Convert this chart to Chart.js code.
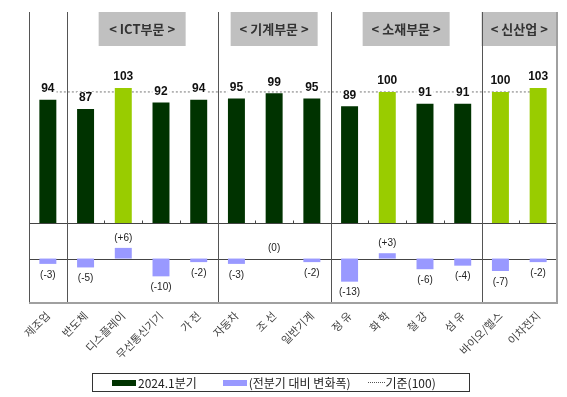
<!DOCTYPE html>
<html>
<head>
<meta charset="utf-8">
<script src="https://cdn.jsdelivr.net/npm/chart.js@4.4.1/dist/chart.umd.min.js"></script>
<style>
  body { margin: 0; background: #fff; }
  #wrap { position: relative; width: 567px; height: 397px; }
  #legend {
    position: absolute; left: 92px; top: 373px; width: 376px; height: 17px;
    border: 1px solid #333; display: flex; align-items: center;
    font: 12px "Noto Sans CJK KR", sans-serif; color: #222; box-sizing: content-box;
  }
  #legend span.sw { display: inline-block; width: 24px; height: 6px; margin-right: 2px; }
  #legend span.dot { display: inline-block; width: 17px; height: 0; border-top: 1px dotted #555; margin-right: 1px; }
  #legend .it { display: flex; align-items: center; }
</style>
</head>
<body>
<div id="wrap">
  <canvas id="chart" width="567" height="397"></canvas>
  <div id="legend">
    <div class="it" style="margin-left:19px"><span class="sw" style="background:#003300"></span>2024.1분기</div>
    <div class="it" style="margin-left:26px"><span class="sw" style="background:#9999ff"></span>(전분기 대비 변화폭)</div>
    <div class="it" style="margin-left:17px"><span class="dot"></span>기준(100)</div>
  </div>
</div>
<script>
var categories = ['제조업', '반도체', '디스플레이', '무선통신기기', '가 전', '자동차', '조 선', '일반기계', '정 유', '화 학', '철 강', '섬 유', '바이오/헬스', '이차전지'];
var index2024q1 = [94, 87, 103, 92, 94, 95, 99, 95, 89, 100, 91, 91, 100, 103];
var qoqChange = [-3, -5, 6, -10, -2, -3, 0, -2, -13, 3, -6, -4, -7, -2];
var baseLine = [100, 100, 100, 100, 100, 100, 100, 100, 100, 100, 100, 100, 100, 100];

var groupNames = ['< ICT부문 >', '< 기계부문 >', '< 소재부문 >', '< 신산업 >'];
var groupFirst = [1, 5, 8, 12];
var groupLast = [4, 7, 11, 13];

var DARK = '#003300', LIGHT = '#99cc00', LAV = '#9999ff';

// left edge of category i (i = categories.length gives the right edge)
function boundary(x, i) {
    var w = x.getPixelForValue(1) - x.getPixelForValue(0);
    return x.getPixelForValue(0) + (i - 0.5) * w;
}

var panelPlugin = {
    id: 'panels',
    beforeDatasetsDraw: function (chart) {
        var ctx = chart.ctx, a = chart.chartArea, x = chart.scales.x;
        var y = chart.scales.y, y2 = chart.scales.y2;
        ctx.save();
        // header boxes
        for (var g = 0; g < groupNames.length; g++) {
            var l = boundary(x, groupFirst[g]), r = boundary(x, groupLast[g] + 1);
            var c = (l + r) / 2, w = Math.min(87, r - l);
            ctx.fillStyle = '#c0c0c0';
            ctx.fillRect(c - w / 2, a.top, w, 34);
            ctx.fillStyle = '#333';
            ctx.font = 'bold 13px "Noto Sans CJK KR"';
            ctx.textAlign = 'center';
            ctx.textBaseline = 'middle';
            ctx.fillText(groupNames[g], c, a.top + 17);
        }
        // upper baseline and lower zero line
        var yb = Math.round(y.getPixelForValue(0)) + 0.5;
        var y0 = Math.round(y2.getPixelForValue(0)) + 0.5;
        ctx.strokeStyle = '#444';
        ctx.lineWidth = 1;
        ctx.beginPath();
        ctx.moveTo(a.left, yb); ctx.lineTo(a.right, yb);
        ctx.moveTo(a.left, y0); ctx.lineTo(a.right, y0);
        ctx.stroke();
        // small tick marks on the upper baseline
        ctx.beginPath();
        for (var i = 1; i < categories.length; i++) {
            var bx = Math.round(boundary(x, i)) + 0.5;
            ctx.moveTo(bx, yb); ctx.lineTo(bx, yb - 3);
        }
        ctx.stroke();
        // group dividers and left border
        ctx.strokeStyle = '#555';
        ctx.beginPath();
        ctx.moveTo(Math.round(a.left) + 0.5, a.top); ctx.lineTo(Math.round(a.left) + 0.5, a.bottom);
        var divs = [1].concat(groupFirst.slice(1));
        for (var d = 0; d < divs.length; d++) {
            var dx = Math.round(boundary(x, divs[d])) + 0.5;
            ctx.moveTo(dx, a.top); ctx.lineTo(dx, a.bottom);
        }
        ctx.stroke();
        // right and bottom border
        ctx.strokeStyle = '#a0a0a0';
        ctx.lineWidth = 2;
        ctx.beginPath();
        ctx.moveTo(a.right, a.top); ctx.lineTo(a.right, a.bottom);
        ctx.lineTo(a.left, a.bottom);
        ctx.stroke();
        ctx.restore();
    },
    afterDatasetsDraw: function (chart) {
        var ctx = chart.ctx;
        ctx.save();
        ctx.textAlign = 'center';
        ctx.textBaseline = 'middle';
        // value labels in the upper panel
        ctx.font = 'bold 12px "Liberation Sans"';
        chart.getDatasetMeta(0).data.forEach(function (bar, i) {
            var txt = String(index2024q1[i]);
            var tw = ctx.measureText(txt).width;
            var ty = bar.y - 11;
            ctx.fillStyle = '#fff';
            ctx.fillRect(bar.x - tw / 2 - 2, ty - 6, tw + 4, 12);
            ctx.fillStyle = '#111';
            ctx.fillText(txt, bar.x, ty);
        });
        // change labels in the lower panel
        ctx.font = '10px "Liberation Sans"';
        ctx.fillStyle = '#222';
        chart.getDatasetMeta(1).data.forEach(function (bar, i) {
            var v = qoqChange[i];
            var txt = v > 0 ? '(+' + v + ')' : '(' + v + ')';
            var ty = v >= 0 ? bar.y - 10 : bar.y + 11;
            ctx.fillText(txt, bar.x, ty);
        });
        ctx.restore();
    }
};

new Chart(document.getElementById('chart'), {
    type: 'bar',
    data: {
        labels: categories,
        datasets: [{
            label: '2024.1분기',
            data: index2024q1,
            yAxisID: 'y',
            backgroundColor: function (c) { return c.raw >= 100 ? LIGHT : DARK; },
            grouped: false,
            categoryPercentage: 1,
            barPercentage: 0.45,
            order: 1
        }, {
            label: '(전분기 대비 변화폭)',
            data: qoqChange,
            yAxisID: 'y2',
            backgroundColor: LAV,
            grouped: false,
            categoryPercentage: 1,
            barPercentage: 0.45,
            order: 1
        }, {
            type: 'line',
            label: '기준(100)',
            data: baseLine,
            yAxisID: 'y',
            borderColor: '#777',
            borderWidth: 1,
            borderDash: [2, 2],
            pointRadius: 0,
            fill: false,
            order: 3
        }]
    },
    options: {
        responsive: false,
        animation: false,
        layout: { padding: { left: 29, right: 10, top: 12, bottom: 34 } },
        plugins: { legend: { display: false }, tooltip: { enabled: false } },
        scales: {
            x: {
                offset: true,
                grid: { display: false, drawTicks: false },
                border: { display: false },
                ticks: {
                    minRotation: 45, maxRotation: 45, padding: 6,
                    color: '#444',
                    font: { family: '"Noto Sans CJK KR"', size: 11 }
                },
                afterFit: function (s) { s.height = 60; }
            },
            y: {
                display: false, stack: 'panels', stackWeight: 211, weight: 2,
                min: 0, max: 161
            },
            y2: {
                display: false, stack: 'panels', stackWeight: 80, weight: 1,
                min: -25, max: 20
            }
        }
    },
    plugins: [panelPlugin]
});
</script>
</body>
</html>
